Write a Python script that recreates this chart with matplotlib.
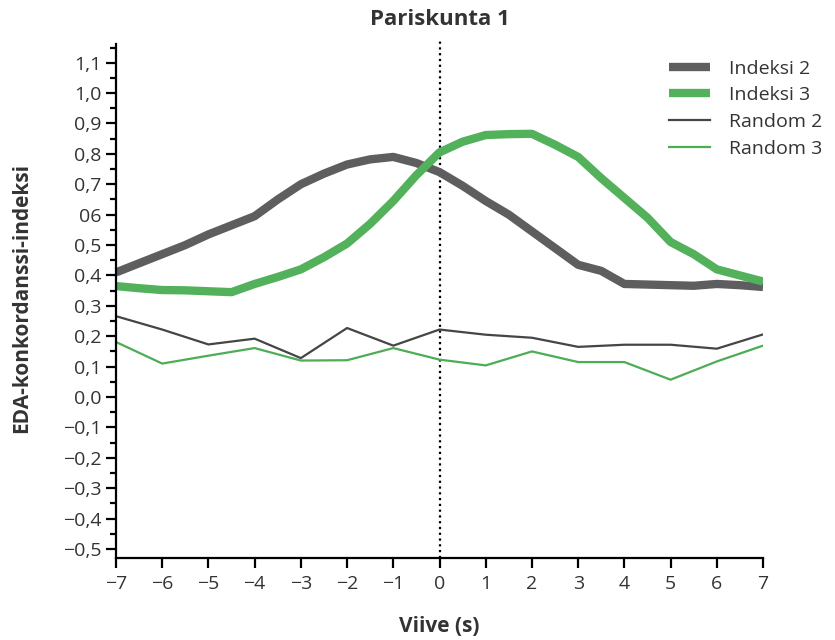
import matplotlib
matplotlib.use("Agg")
import matplotlib.pyplot as plt
from matplotlib.ticker import MultipleLocator

plt.rcParams["font.family"] = ["Open Sans", "DejaVu Sans"]

# Viive sekunteina (puolen sekunnin välein)
lag = [-7, -6.5, -6, -5.5, -5, -4.5, -4, -3.5, -3, -2.5, -2, -1.5, -1, -0.5, 0,
       0.5, 1, 1.5, 2, 2.5, 3, 3.5, 4, 4.5, 5, 5.5, 6, 6.5, 7]
indeksi2 = [0.41, 0.44, 0.47, 0.50, 0.535, 0.565, 0.595, 0.65, 0.70, 0.735, 0.765,
            0.782, 0.79, 0.77, 0.74, 0.695, 0.645, 0.60, 0.545, 0.49, 0.435, 0.415,
            0.372, 0.37, 0.368, 0.366, 0.372, 0.368, 0.362]
indeksi3 = [0.365, 0.358, 0.352, 0.351, 0.348, 0.345, 0.372, 0.395, 0.42, 0.46, 0.505,
            0.57, 0.645, 0.73, 0.805, 0.84, 0.862, 0.865, 0.866, 0.83, 0.79, 0.72,
            0.655, 0.59, 0.51, 0.47, 0.42, 0.40, 0.38]

# Satunnaisparit (kokonaisluvuin)
lag_r = [-7, -6, -5, -4, -3, -2, -1, 0, 1, 2, 3, 4, 5, 6, 7]
random2 = [0.266, 0.222, 0.173, 0.192, 0.128, 0.227, 0.169, 0.222, 0.205, 0.195,
           0.165, 0.172, 0.172, 0.159, 0.206]
random3 = [0.181, 0.11, 0.136, 0.161, 0.12, 0.121, 0.161, 0.123, 0.104, 0.15,
           0.115, 0.115, 0.057, 0.117, 0.169]

yticks = [-0.5, -0.4, -0.3, -0.2, -0.1, 0.0, 0.1, 0.2, 0.3, 0.4, 0.5, 0.6, 0.7,
          0.8, 0.9, 1.0, 1.1]
ytick_labels = ["\u22120,5", "\u22120,4", "\u22120,3", "\u22120,2", "\u22120,1", "0,0",
                "0,1", "0,2", "0,3", "0,4", "0,5", "06", "0,7", "0,8", "0,9", "1,0", "1,1"]
xticks = list(range(-7, 8))

fig = plt.figure(figsize=(8.35, 6.4), dpi=100)
ax = fig.add_axes([0.1389, 0.128, 0.7749, 0.812])

grey = "#5e5e5e"
green = "#52b15a"
ax.plot(lag, indeksi2, color=grey, lw=6, label="Indeksi 2", solid_capstyle="butt")
ax.plot(lag, indeksi3, color=green, lw=6, label="Indeksi 3", solid_capstyle="butt")
ax.plot(lag_r, random2, color="#454545", lw=1.6, label="Random 2")
ax.plot(lag_r, random3, color="#4cad55", lw=1.6, label="Random 3")
ax.axvline(0, color="black", lw=1.6, ls=(0, (1, 1.6)), zorder=0)

ax.set_xlim(-7, 7)
ax.set_ylim(-0.53, 1.18)
ax.spines["top"].set_visible(False)
ax.spines["right"].set_visible(False)
ax.spines["left"].set_bounds(-0.53, 1.16)
for s in ("left", "bottom"):
    ax.spines[s].set_linewidth(1.6)

ax.set_xticks(xticks)
ax.set_xticklabels([str(v).replace("-", "\u2212") for v in xticks])
ax.set_yticks(yticks)
ax.set_yticklabels(ytick_labels)
ax.yaxis.set_minor_locator(MultipleLocator(0.05))
ax.tick_params(axis="both", which="major", length=7, width=1.6, labelsize=14,
               colors="black", labelcolor="#333333")
ax.tick_params(axis="y", which="minor", length=4, width=1.6)
ax.tick_params(axis="x", pad=5)

ax.set_xlabel("Viive (s)", fontsize=15, fontweight="bold", color="#333333", labelpad=17)
ax.set_ylabel("EDA-konkordanssi-indeksi", fontsize=15, fontweight="bold",
              color="#333333", labelpad=22)
ax.set_title("Pariskunta 1", fontsize=16, fontweight="bold", color="#333333", pad=10)

fig.legend(loc="upper left", bbox_to_anchor=(0.801, 0.907), frameon=False,
           fontsize=14, handlelength=2.1, handletextpad=1.0, labelspacing=0.45,
           borderpad=0, borderaxespad=0, labelcolor="#333333")

plt.savefig("out.png", dpi=100)
